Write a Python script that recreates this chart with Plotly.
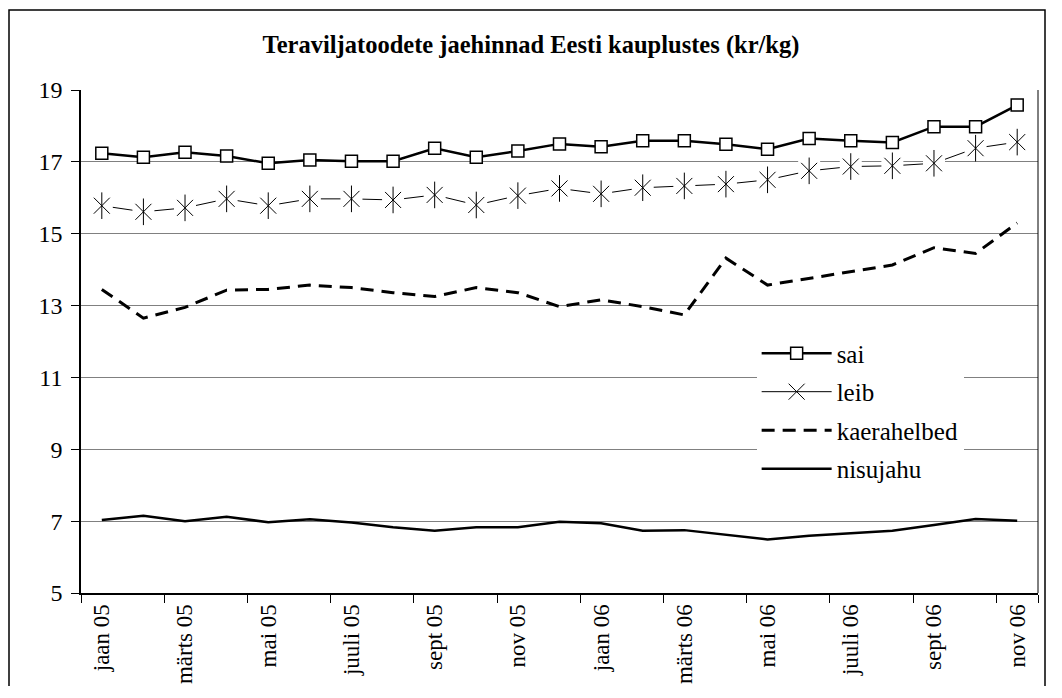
import plotly.graph_objects as go

months = ["jaan 05", "veebr 05", "märts 05", "apr 05", "mai 05", "juuni 05",
          "juuli 05", "aug 05", "sept 05", "okt 05", "nov 05", "dets 05",
          "jaan 06", "veebr 06", "märts 06", "apr 06", "mai 06", "juuni 06",
          "juuli 06", "aug 06", "sept 06", "okt 06", "nov 06"]

sai = [17.24, 17.13, 17.27, 17.16, 16.96, 17.05, 17.02, 17.02, 17.38, 17.13, 17.30, 17.50,
       17.42, 17.59, 17.59, 17.49, 17.35, 17.65, 17.59, 17.54, 17.98, 17.98, 18.58]
leib = [15.78, 15.61, 15.72, 15.97, 15.78, 15.97, 15.97, 15.94, 16.08, 15.80, 16.06, 16.26,
        16.11, 16.28, 16.33, 16.38, 16.50, 16.75, 16.87, 16.89, 16.96, 17.38, 17.55]
kaerahelbed = [13.45, 12.65, 12.95, 13.43, 13.45, 13.57, 13.50, 13.36, 13.25, 13.50, 13.36, 12.97,
               13.16, 12.97, 12.74, 14.32, 13.57, 13.76, 13.94, 14.13, 14.61, 14.45, 15.30]
nisujahu = [7.03, 7.15, 7.00, 7.12, 6.97, 7.05, 6.96, 6.83, 6.73, 6.83, 6.83, 6.98,
            6.94, 6.73, 6.75, 6.63, 6.49, 6.59, 6.66, 6.73, 6.89, 7.06, 7.01]

title_text = "Teraviljatoodete jaehinnad Eesti kauplustes (kr/kg)"
FONT = "'Liberation Serif', 'Times New Roman', Tinos, 'DejaVu Serif', serif"

fig = go.Figure()

# sai
fig.add_trace(go.Scatter(
    x=months, y=sai, name="sai", mode="lines+markers", legendgroup="a",
    line=dict(color="black", width=2.5),
    marker=dict(symbol="square", size=12, color="white", line=dict(color="black", width=1.5)),
))
# leib (line + x marker, legend)
fig.add_trace(go.Scatter(
    x=months, y=leib, name="leib", mode="lines+markers", legendgroup="b",
    line=dict(color="black", width=1),
    marker=dict(symbol="x-thin-open", size=16, color="black", line=dict(color="black", width=1)),
))
# white backing for asterisks (gaps in line)
fig.add_trace(go.Scatter(
    x=months, y=leib, mode="markers", showlegend=False, hoverinfo="skip",
    marker=dict(symbol="square", size=22, color="white", line=dict(width=0)),
))
fig.add_trace(go.Scatter(
    x=months, y=leib, mode="markers", showlegend=False, hoverinfo="skip",
    marker=dict(symbol="x-thin-open", size=16, color="black", line=dict(color="black", width=1)),
))
fig.add_trace(go.Scatter(
    x=months, y=leib, mode="markers", showlegend=False, hoverinfo="skip",
    marker=dict(symbol="line-ns-open", size=19, color="black", line=dict(color="black", width=1)),
))
# kaerahelbed
fig.add_trace(go.Scatter(
    x=months, y=kaerahelbed, name="kaerahelbed", mode="lines", legendgroup="c",
    line=dict(color="black", width=3, dash="13px,8px"),
))
# nisujahu
fig.add_trace(go.Scatter(
    x=months, y=nisujahu, name="nisujahu", mode="lines", legendgroup="d",
    line=dict(color="black", width=2.5),
))

# figure sits at the page's 8px body margin; plot area spans 73..1030 x 82..585 in figure px
FW, FH = 1050, 678
L, T, PW, PH = 73, 82, 957, 503
fig.add_shape(type="rect", xref="paper", yref="paper",
              x0=(1 - L) / PW, x1=(1037 - L) / PW, y0=(T + PH - 700) / PH, y1=(T + PH - 2) / PH,
              line=dict(color="black", width=1.5), layer="below")
fig.add_shape(type="line", xref="paper", yref="paper",
              x0=1, x1=1, y0=0, y1=1, line=dict(color="black", width=1))

fig.update_layout(
    width=FW, height=FH,
    margin=dict(l=L, r=FW - L - PW, t=T, b=FH - T - PH, autoexpand=False),
    paper_bgcolor="white", plot_bgcolor="white",
    font=dict(family=FONT, color="black", size=24),
    title=dict(text="<b>" + title_text + "</b>", x=(531 - 8 - L) / PW, xref="paper",
               xanchor="center", y=1 - 36 / FH, yanchor="middle",
               font=dict(family=FONT, size=24.5, color="black")),
    xaxis=dict(
        type="category", range=[-0.5, 22.5], automargin=False,
        tickmode="array", tickvals=months[::2],
        tickson="boundaries", ticks="outside", ticklen=8, tickcolor="black", tickwidth=1,
        tickangle=-90, tickfont=dict(family=FONT, size=23),
        showline=True, linecolor="black", linewidth=2,
        showgrid=False, zeroline=False,
    ),
    yaxis=dict(
        range=[5, 19], tick0=5, dtick=2, automargin=False,
        ticks="outside", ticklen=8, tickcolor="black", tickwidth=1,
        tickfont=dict(family=FONT, size=24), ticklabelstandoff=4,
        showline=True, linecolor="black", linewidth=1.5,
        showgrid=True, gridcolor="#808080", gridwidth=1, zeroline=False,
    ),
    legend=dict(
        x=0.706, y=0.522, xanchor="left", yanchor="top",
        bgcolor="white", borderwidth=0,
        font=dict(family=FONT, size=25), traceorder="grouped", tracegroupgap=3,
        itemwidth=70,
    ),
    showlegend=True,
)

fig.write_html("out.html")
